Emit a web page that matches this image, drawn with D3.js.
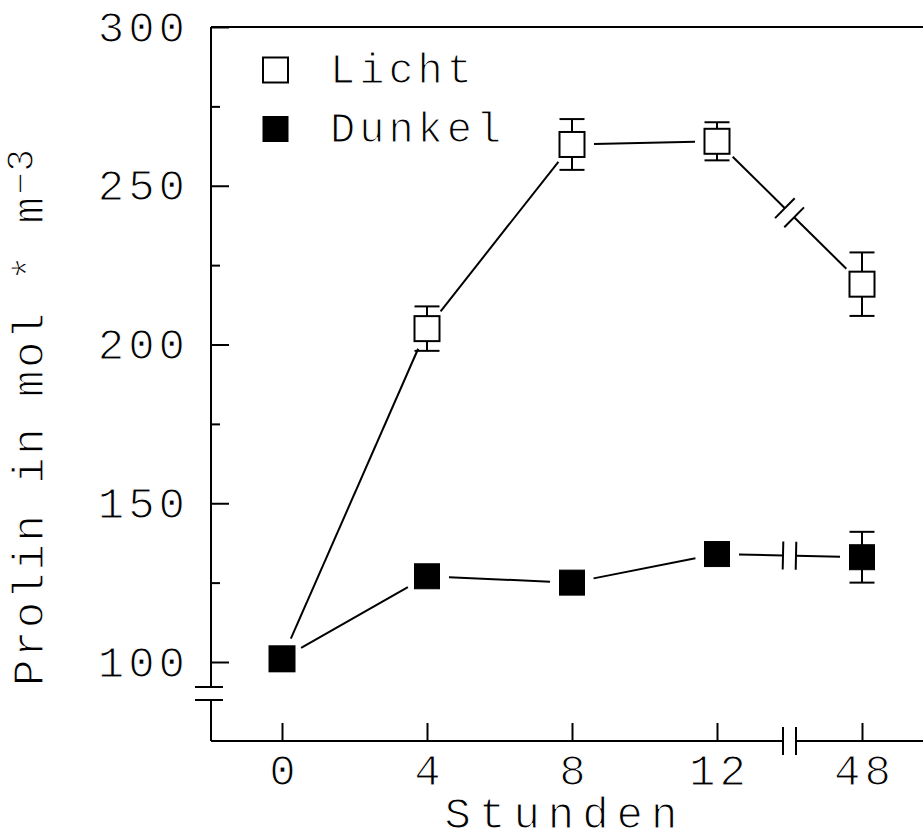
<!DOCTYPE html>
<html>
<head>
<meta charset="utf-8">
<script src="https://cdn.jsdelivr.net/npm/d3@7"></script>
<style>
  body { margin: 0; background: #fff; }
  svg { display: block; }
  text { font-family: "Liberation Mono", "Courier New", monospace; fill: #000; stroke: #fff; stroke-width: 1.2px; paint-order: normal; }
</style>
</head>
<body>
<svg id="chart" width="923" height="836"></svg>
<script>
// ---- data ----
const hours = ['0', '4', '8', '12', '48'];
const lichtMean = [101, 205, 263, 264, 219];
const lichtErr = [2, 7, 8, 6, 10];
const dunkelMean = [101, 127, 125, 134, 133];
const dunkelErr = [2, 3, 3, 3, 8];
const yTicks = [100, 150, 200, 250, 300];
const yMinorTicks = [125, 175, 225, 275];
const seriesNames = ['Licht', 'Dunkel'];
const axisTitleX = 'Stunden';
const axisTitleY = 'Prolin in mol * m';
const axisTitleYSup = '\u22123';

// ---- layout ----
const svg = d3.select('#chart');
const W = 923;
const axisX = 211, axisY = 741, topY = 27;
const x = d3.scalePoint().domain(hours).range([282, 862]);
const y = d3.scaleLinear().domain([100, 300]).range([662, topY]);
const mk = 25;          // marker size
const gap = 22;         // gap between line end and marker centre
const breakX = 789.5;   // x position of the 12|48 break
const lw = 2;

// ---- frame ----
const frame = svg.append('g').attr('stroke', '#000').attr('stroke-width', lw).attr('fill', 'none');
frame.append('line').attr('x1', axisX).attr('x2', W).attr('y1', topY).attr('y2', topY);
frame.append('line').attr('x1', axisX).attr('x2', axisX).attr('y1', topY).attr('y2', 687);
frame.append('line').attr('x1', axisX).attr('x2', axisX).attr('y1', 700).attr('y2', axisY);
frame.append('line').attr('x1', 195).attr('x2', 223).attr('y1', 687).attr('y2', 687);
frame.append('line').attr('x1', 195).attr('x2', 223).attr('y1', 700).attr('y2', 700);
frame.append('line').attr('x1', axisX).attr('x2', breakX - 6.5).attr('y1', axisY).attr('y2', axisY);
frame.append('line').attr('x1', breakX + 6.5).attr('x2', W).attr('y1', axisY).attr('y2', axisY);
frame.append('line').attr('x1', breakX - 6.5).attr('x2', breakX - 6.5).attr('y1', 727).attr('y2', 755);
frame.append('line').attr('x1', breakX + 6.5).attr('x2', breakX + 6.5).attr('y1', 727).attr('y2', 755);

// ---- axes (ticks + labels via d3.axis) ----
const yAxis = d3.axisLeft(y).tickValues(yTicks).tickSize(-18).tickPadding(22).tickFormat(d3.format('d'));
const gy = svg.append('g').attr('transform', `translate(${axisX},0)`).call(yAxis);
gy.select('.domain').remove();
gy.selectAll('line').attr('stroke', '#000').attr('stroke-width', lw);
gy.selectAll('text').attr('font-size', 44).attr('letter-spacing', 4).attr('fill', '#000');

const yMinor = d3.axisLeft(y).tickValues(yMinorTicks).tickSize(-9).tickFormat('');
const gy2 = svg.append('g').attr('transform', `translate(${axisX},0)`).call(yMinor);
gy2.select('.domain').remove();
gy2.selectAll('line').attr('stroke', '#000').attr('stroke-width', lw);

const xAxis = d3.axisBottom(x).tickSize(-18).tickPadding(13);
const gx = svg.append('g').attr('transform', `translate(0,${axisY})`).call(xAxis);
gx.select('.domain').remove();
gx.selectAll('line').attr('stroke', '#000').attr('stroke-width', lw);
gx.selectAll('text').attr('font-size', 44).attr('letter-spacing', 4).attr('fill', '#000')
  .attr('dx', 2);

// ---- axis titles ----
svg.append('text').attr('x', 565).attr('y', 828).attr('text-anchor', 'middle')
  .attr('font-size', 44).attr('letter-spacing', 8).text(axisTitleX);

const yt = svg.append('text').attr('transform', 'translate(43,686) rotate(-90)')
  .attr('font-size', 44).attr('letter-spacing', 2.5);
yt.append('tspan').text(axisTitleY);
yt.append('tspan').attr('dy', -10).attr('font-size', 38).attr('letter-spacing', 0).text(axisTitleYSup);

// ---- data lines with gaps and breaks ----
function drawSeries(means) {
  const pts = means.map((v, i) => [x(hours[i]), y(v)]);
  const g = svg.append('g').attr('stroke', '#000').attr('stroke-width', lw).attr('fill', 'none');
  for (let i = 0; i < pts.length - 1; i++) {
    const [x0, y0] = pts[i], [x1, y1] = pts[i + 1];
    const dx = x1 - x0, dy = y1 - y0, L = Math.hypot(dx, dy);
    const ux = dx / L, uy = dy / L;
    const s = [x0 + ux * gap, y0 + uy * gap];
    const e = [x1 - ux * gap, y1 - uy * gap];
    if (i === pts.length - 2) {
      const t = (breakX - x0) / dx;
      const c = [x0 + dx * t, y0 + dy * t];
      const b1 = [c[0] - ux * 6.5, c[1] - uy * 6.5];
      const b2 = [c[0] + ux * 6.5, c[1] + uy * 6.5];
      g.append('line').attr('x1', s[0]).attr('y1', s[1]).attr('x2', b1[0]).attr('y2', b1[1]);
      g.append('line').attr('x1', b2[0]).attr('y1', b2[1]).attr('x2', e[0]).attr('y2', e[1]);
      const px = -uy * 14, py = ux * 14;
      [b1, b2].forEach(b => g.append('line')
        .attr('x1', b[0] - px).attr('y1', b[1] - py)
        .attr('x2', b[0] + px).attr('y2', b[1] + py));
    } else {
      g.append('line').attr('x1', s[0]).attr('y1', s[1]).attr('x2', e[0]).attr('y2', e[1]);
    }
  }
  return pts;
}
drawSeries(lichtMean);
drawSeries(dunkelMean);

// ---- error bars ----
function drawErr(means, errs) {
  const g = svg.append('g').attr('stroke', '#000').attr('stroke-width', lw);
  means.forEach((v, i) => {
    const cx = x(hours[i]);
    const yt = y(v + errs[i]), yb = y(v - errs[i]);
    g.append('line').attr('x1', cx).attr('x2', cx).attr('y1', yt).attr('y2', yb);
    g.append('line').attr('x1', cx - mk / 2).attr('x2', cx + mk / 2).attr('y1', yt).attr('y2', yt);
    g.append('line').attr('x1', cx - mk / 2).attr('x2', cx + mk / 2).attr('y1', yb).attr('y2', yb);
  });
}
drawErr(lichtMean, lichtErr);
drawErr(dunkelMean, dunkelErr);

// ---- markers ----
svg.append('g').selectAll('rect').data(lichtMean).join('rect')
  .attr('x', (d, i) => x(hours[i]) - mk / 2).attr('y', d => y(d) - mk / 2)
  .attr('width', mk).attr('height', mk)
  .attr('fill', '#fff').attr('stroke', '#000').attr('stroke-width', lw);
svg.append('g').selectAll('rect').data(dunkelMean).join('rect')
  .attr('x', (d, i) => x(hours[i]) - mk / 2).attr('y', d => y(d) - mk / 2)
  .attr('width', mk).attr('height', mk)
  .attr('fill', '#000').attr('stroke', '#000').attr('stroke-width', 1);

// ---- legend ----
const leg = svg.append('g');
seriesNames.forEach((name, i) => {
  const ly = 70 + i * 59;
  leg.append('rect').attr('x', 263).attr('y', ly - mk / 2).attr('width', mk).attr('height', mk)
    .attr('fill', i === 0 ? '#fff' : '#000').attr('stroke', '#000').attr('stroke-width', i === 0 ? lw : 1);
  leg.append('text').attr('x', 330).attr('y', ly + 13).attr('font-size', 42)
    .attr('letter-spacing', 4).text(name);
});
</script>
</body>
</html>
